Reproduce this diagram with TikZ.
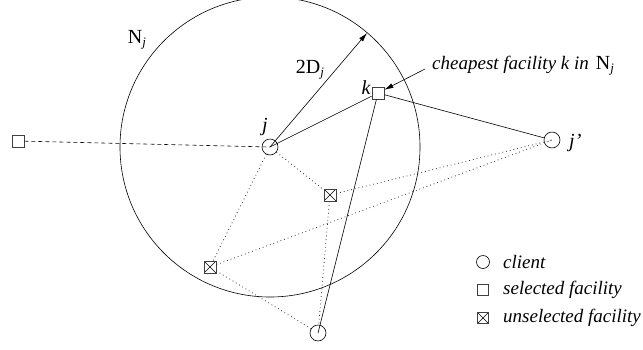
\documentclass[tikz,border=0pt]{standalone}
\usepackage{fontspec}
\setmainfont{Liberation Serif}
\usetikzlibrary{arrows.meta}
\newcommand{\subj}{\textit{\fontsize{13}{14}\selectfont\raisebox{-3pt}{j}}}
\begin{document}
\begin{tikzpicture}[x=1pt,y=-1pt,
  client/.style={circle, draw, minimum size=16pt, inner sep=0pt, line width=0.6pt},
  sel/.style={rectangle, draw=black!75, minimum size=12pt, inner sep=0pt, fill=white, line width=0.8pt},
  unsel/.style={sel, path picture={\draw[black, line width=0.6pt] (path picture bounding box.north west)--(path picture bounding box.south east) (path picture bounding box.north east)--(path picture bounding box.south west);}},
  lclient/.style={client, minimum size=13pt},
  lsel/.style={sel, minimum size=11pt},
  lunsel/.style={unsel, minimum size=11pt},
  solidline/.style={line width=0.6pt},
  dashline/.style={dash pattern=on 4pt off 3pt, line width=0.6pt},
  dotline/.style={dash pattern=on 0.8pt off 3pt, line width=0.8pt, black!80},
  lbl/.style={font=\fontsize{20}{22}\selectfont, inner sep=0pt},
  itl/.style={font=\fontsize{19}{21}\selectfont\itshape, inner sep=0pt, anchor=west},
]
\useasboundingbox (0,0) rectangle (643,349);
\node[circle, draw, line width=0.6pt, minimum size=300pt, inner sep=0pt] (Nj) at (270,147) {};
\coordinate (rim) at (367,33);
% nodes
\node[client] (j) at (270,147) {};
\node[sel] (k) at (378,93) {};
\node[client] (jp) at (552,140) {};
\node[sel] (far) at (18,141) {};
\node[unsel] (u1) at (210,267) {};
\node[unsel] (u2) at (330,195) {};
\node[client] (b) at (318,333) {};
% labels
\node[lbl] (NjL) at (137,40) {N\subj};
\node[lbl] (DL) at (310,70) {2D\subj};
\node[lbl, font=\fontsize{20}{22}\selectfont\itshape] (jL) at (265,127) {j};
\node[lbl, font=\fontsize{20}{22}\selectfont\itshape] (kL) at (366,88) {k};
\node[lbl, font=\fontsize{20}{22}\selectfont\itshape, anchor=west] (jpL) at (569,143) {j’};
\node[itl] (cheap) at (432,66) {cheapest facility k in\hspace{7pt}\upshape\fontsize{20}{22}\selectfont N\subj};
\coordinate (cheapS) at (425,69);
% connectors
\draw[dashline] (far) -- (j.center);
\draw[solidline] (j.center) -- (k);
\draw[solidline] (k) -- (jp);
\draw[solidline] (k) -- (b.center);
\draw[solidline, -{Latex[length=9pt,width=5pt]}] (j.center) -- (rim);
\draw[solidline, -{Latex[length=9pt,width=5pt]}] (cheapS) -- (k);
\draw[dotline] (j) -- (u1);
\draw[dotline] (j) -- (u2);
\draw[dotline] (u1) -- (jp.center);
\draw[dotline] (u2) -- (jp.center);
\draw[dotline] (u1) -- (b);
\draw[dotline] (u2) -- (b);
% legend
\node[lclient] (lc) at (483,262) {};
\node[itl] (lct) at (503,262) {client};
\node[lsel] (ls) at (483,290) {};
\node[itl] (lst) at (503,290) {selected facility};
\node[lunsel] (lu) at (483,318) {};
\node[itl] (lut) at (503,318) {unselected facility};
\end{tikzpicture}
\end{document}
